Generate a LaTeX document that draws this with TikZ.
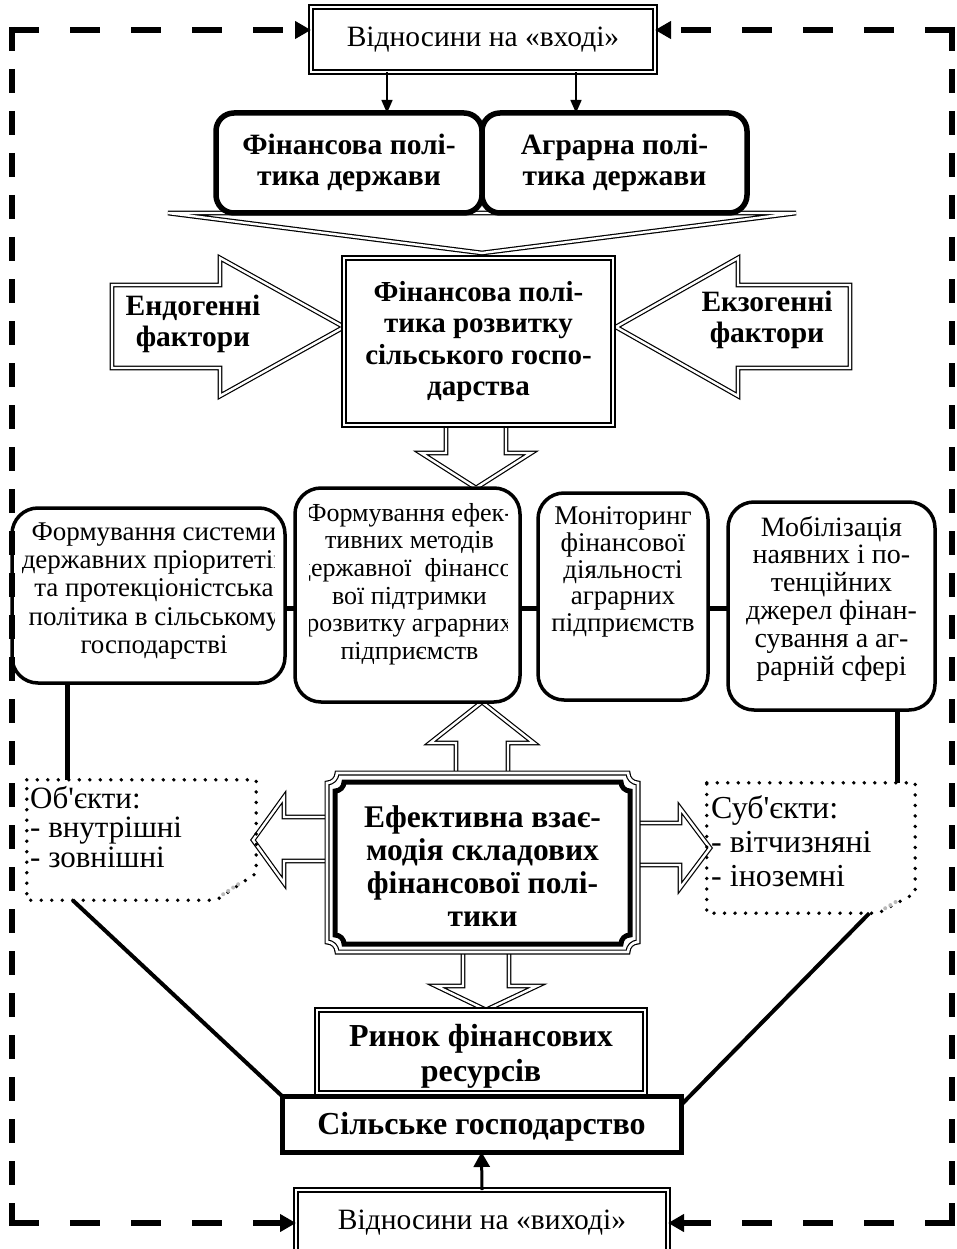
\documentclass[tikz,border=0pt]{standalone}
\usepackage{fontspec}
\newfontfamily\tnr{Liberation Serif}
\usetikzlibrary{arrows.meta,calc}
\pgfdeclarelayer{bg}
\pgfsetlayers{bg,main}
\begin{document}
\begin{tikzpicture}[x=1pt,y=-1pt,
 reg/.style={font=\tnr\fontsize{27}{27.5}\selectfont, align=center, inner sep=0pt},
 bld/.style={font=\tnr\bfseries\fontsize{29.5}{31}\selectfont, align=center, inner sep=0pt},
 dblbox/.style={draw, double, line width=1.5pt, double distance=2.6pt, fill=white, inner sep=0pt, outer sep=0pt},
 rbox/.style={draw, line width=3.5pt, rounded corners=26pt, fill=white, inner sep=0pt, outer sep=0pt},
 tbox/.style={draw, line width=5.5pt, rounded corners=18pt, fill=white, inner sep=0pt, outer sep=0pt},
 blockarrow/.style={draw, double, line width=1.2pt, double distance=2.4pt, fill=white, line join=miter},
 hdash/.style={line width=6pt, dash pattern=on 30pt off 31pt},
 vdash/.style={line width=6pt, dash pattern=on 24pt off 18pt},
 frametip/.style={-{Triangle[length=16pt,width=17pt]}},
 thinarrow/.style={line width=1.5pt, -{Triangle[length=13pt,width=11pt]}},
 uparrow/.style={line width=3pt, -{Triangle[length=15pt,width=16pt]}},
 conn/.style={line width=5pt},
 diag/.style={line width=4pt},
 dotbox/.style={line width=3.8pt, dash pattern=on 0pt off 10.5pt, line cap=round, line join=round},
 fold/.style={gray!55, line width=4pt, dash pattern=on 0pt off 6pt, line cap=round},
]
\useasboundingbox (0,0) rectangle (956,1249);

% ---------- top ----------
\node[dblbox, reg, font=\tnr\fontsize{29.5}{30}\selectfont, minimum width=344pt, minimum height=65pt] (top) at (483,39.5) {Відносини на «вході»};
\node[tbox, bld, minimum width=266pt, minimum height=100pt] (fp) at (349,163) {Фінансова полі-\\тика держави};
\node[tbox, bld, minimum width=265pt, minimum height=100pt] (ap) at (614.5,163) {Аграрна полі-\\тика держави};
\coordinate (ax1) at (387,0);
\coordinate (ax2) at (576,0);
\draw[thinarrow] (top.south -| ax1) -- (fp.north -| ax1);
\draw[thinarrow] (top.south -| ax2) -- (ap.north -| ax2);

% ---------- central policy ----------
\node[dblbox, bld, font=\tnr\bfseries\fontsize{29}{31.5}\selectfont, minimum width=269pt, minimum height=167pt] (cp) at (478.5,341.5) {Фінансова полі-\\тика розвитку\\сільського госпо-\\дарства};
\node[bld] (endo) at (193,324) {Ендогенні\\фактори};
\node[bld] (exo) at (767,320) {Екзогенні\\фактори};

% ---------- row of four ----------
\node[rbox, minimum width=273pt, minimum height=175pt] (b1) at (148.5,595.5) {};
\node[rbox, minimum width=225pt, minimum height=214pt] (b2) at (407.5,595) {};
\node[rbox, minimum width=170pt, minimum height=207pt] (b3) at (623,596.5) {};
\node[rbox, minimum width=207pt, minimum height=208pt] (b4) at (831.5,606) {};
\begin{scope}
\clip (22,510) rectangle (274,680);
\node[reg, font=\tnr\fontsize{27}{28.2}\selectfont] (t1) at (154,591) {Формування системи\\державних пріоритетів\\та протекціоністська\\політика в сільському\\господарстві};
\end{scope}
\begin{scope}
\clip (309,490) rectangle (507,700);
\node[reg, font=\tnr\fontsize{26}{27.6}\selectfont] (t2) at (409.5,584) {Формування ефек-\\тивних методів\\державної\ \ фінансо-\\вої підтримки\\розвитку аграрних\\підприємств};
\end{scope}
\node[reg, font=\tnr\fontsize{27}{26.8}\selectfont] (t3) at (623,572) {Моніторинг\\фінансової\\діяльності\\аграрних\\підприємств};
\node[reg, font=\tnr\fontsize{28}{27.8}\selectfont] (t4) at (831.5,598.5) {Мобілізація\\наявних і по-\\тенційних\\джерел фінан-\\сування а аг-\\рарній сфері};
\coordinate (ly) at (0,608);
\draw[conn] (b1.east |- ly) -- (b2.west |- ly);
\draw[conn] (b2.east |- ly) -- (b3.west |- ly);
\draw[conn] (b3.east |- ly) -- (b4.west |- ly);

% ---------- effective interaction ----------
\node[minimum width=311pt, minimum height=179pt, inner sep=0pt] (ef) at (482.5,862.5) {};
\fill[white] (ef.north west) rectangle (ef.south east);
\draw[double, line width=1.2pt, double distance=2.6pt]
 (337,773) -- (628,773) .. controls (628,778.5) and (632.5,783) .. (638,783)
 -- (638,942) .. controls (632.5,942) and (628,946.5) .. (628,952)
 -- (337,952) .. controls (337,946.5) and (332.5,942) .. (327,942)
 -- (327,783) .. controls (332.5,783) and (337,778.5) .. (337,773) -- cycle;
\draw[line width=5pt]
 (344,782) -- (621,782) .. controls (621,787) and (625,791) .. (630,791)
 -- (630,935) .. controls (625,935) and (621,939) .. (621,944)
 -- (344,944) .. controls (344,939) and (340,935) .. (335,935)
 -- (335,791) .. controls (340,791) and (344,787) .. (344,782) -- cycle;
\node[bld, font=\tnr\bfseries\fontsize{31.5}{33}\selectfont] (eft) at (482.5,866) {Ефективна взає-\\модія складових\\фінансової полі-\\тики};

% ---------- objects / subjects ----------
\node[minimum width=229pt, minimum height=120pt, inner sep=0pt] (obj) at (141.5,840) {};
\draw[dotbox] (obj.north west) -- (obj.north east) -- ([yshift=27pt]obj.south east) -- ([xshift=-40pt]obj.south east) -- (obj.south west) -- cycle;
\draw[fold] ([xshift=-33pt,yshift=6pt]obj.south east) -- ([xshift=-18pt,yshift=16pt]obj.south east);
\node[reg, align=left, anchor=north west, font=\tnr\fontsize{31}{29.5}\selectfont] (objt) at (30,786) {Об'єкти:\\- внутрішні\\- зовнішні};

\node[minimum width=208pt, minimum height=130pt, inner sep=0pt] (subj) at (811,848) {};
\draw[dotbox] (subj.north west) -- (subj.north east) -- ([yshift=20pt]subj.south east) -- ([xshift=-37pt]subj.south east) -- (subj.south west) -- cycle;
\draw[fold] ([xshift=-30pt,yshift=5pt]subj.south east) -- ([xshift=-15pt,yshift=14pt]subj.south east);
\node[reg, align=left, anchor=north west, font=\tnr\fontsize{32}{34}\selectfont] (subjt) at (711,795) {Суб'єкти:\\- вітчизняні\\- іноземні};

% ---------- bottom ----------
\node[dblbox, minimum width=328pt, minimum height=83pt] (rf) at (481,1051.5) {};
\node[bld, font=\tnr\bfseries\fontsize{32}{35}\selectfont] (rft) at (481,1056) {Ринок фінансових\\ресурсів};
\node[draw, line width=5pt, fill=white, minimum width=399pt, minimum height=56pt, inner sep=0pt, outer sep=0pt] (sg) at (481.5,1124) {};
\node[bld, font=\tnr\bfseries\fontsize{32}{34}\selectfont] (sgt) at (481.5,1127) {Сільське господарство};
\node[dblbox, reg, font=\tnr\fontsize{29.5}{30}\selectfont, minimum width=372pt, minimum height=66pt] (bot) at (482,1223) {Відносини на «виході»};
\draw[uparrow] (bot.north) -- (sg.south);

% vertical and diagonal connectors
\coordinate (lx) at (67,0);
\coordinate (rx) at (897,0);
\draw[conn] (b1.south -| lx) -- (obj.north -| lx);
\draw[conn] (b4.south -| rx) -- (subj.north -| rx);
\draw[diag] ($(obj.south west)!0.2!(obj.south east)$) -- (sg.north west);
\draw[diag] ($(subj.south west)!0.78!(subj.south east)$) -- ([yshift=19pt]sg.east);

% ---------- dashed frame ----------
\coordinate (fy) at (0,30);
\coordinate (by) at (0,1223);
\draw[vdash] (12,27) -- (12,1226);
\draw[vdash] (952,27) -- (952,1226);
\draw[hdash, frametip] (9,30) -- (top.west |- fy);
\draw[hdash, frametip] (955,30) -- (top.east |- fy);
\draw[hdash, frametip] (9,1223) -- (bot.west |- by);
\draw[hdash, frametip] (955,1223) -- (bot.east |- by);

% ---------- block arrows (background) ----------
\begin{pgfonlayer}{bg}
\draw[blockarrow] (168,213) -- (796,213) -- (482,253) -- cycle;
\draw[blockarrow] (112,285) -- (220,285) -- (220,258) -- (344,327) -- (220,396) -- (220,368) -- (112,368) -- cycle;
\draw[blockarrow] (850,285) -- (738,285) -- (738,258) -- (616,327) -- (738,396) -- (738,368) -- (850,368) -- cycle;
\draw[blockarrow] (446,420) -- (446,453) -- (421,453) -- (476,488) -- (531,453) -- (506,453) -- (506,420) -- cycle;
\draw[blockarrow] (456,778) -- (456,743) -- (430,743) -- (482,702) -- (534,743) -- (508,743) -- (508,778) -- cycle;
\draw[blockarrow] (463,948) -- (463,986) -- (436,986) -- (486,1010) -- (537,986) -- (509,986) -- (509,948) -- cycle;
\draw[blockarrow] (332,817) -- (284,817) -- (284,797) -- (253,840) -- (284,883) -- (284,861) -- (332,861) -- cycle;
\draw[blockarrow] (633,823) -- (680,823) -- (680,808) -- (710,848) -- (680,888) -- (680,865) -- (633,865) -- cycle;
\end{pgfonlayer}
\end{tikzpicture}
\end{document}
